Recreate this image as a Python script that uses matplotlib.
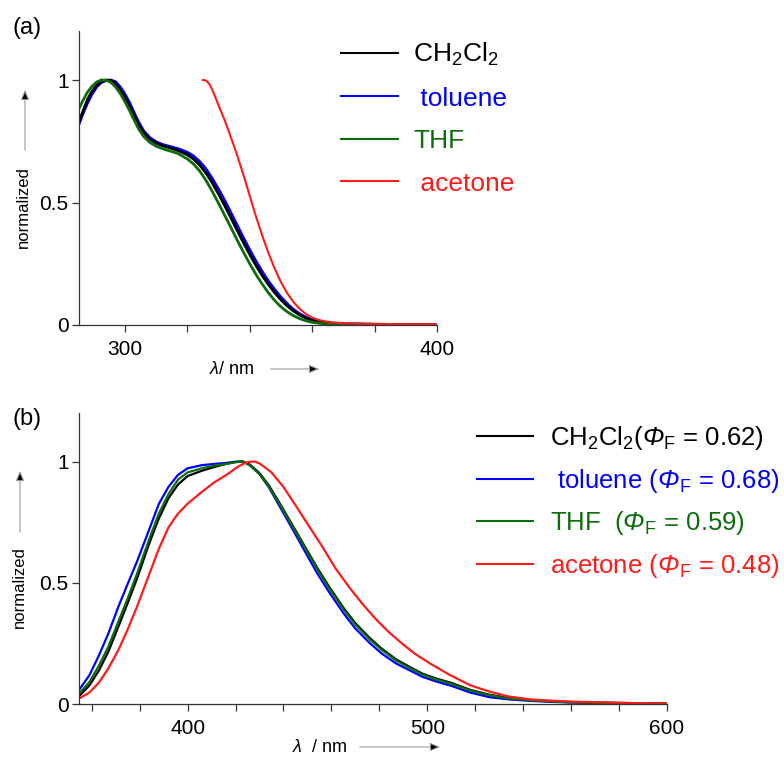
import numpy as np
import matplotlib
matplotlib.use('Agg')
import matplotlib.pyplot as plt

plt.rcParams['font.family'] = ['Liberation Sans', 'DejaVu Sans']
plt.rcParams['mathtext.fontset'] = 'custom'
plt.rcParams['mathtext.rm'] = 'Liberation Sans'
plt.rcParams['mathtext.it'] = 'Liberation Sans:italic'
plt.rcParams['mathtext.sf'] = 'Liberation Sans:italic'
plt.rcParams['mathtext.bf'] = 'Liberation Sans:bold'

# absorption spectra (normalized)
abs_wl = [285, 286.5, 288, 289.5, 291, 292.5, 294, 295.5, 297, 298.5, 300, 301.5,
          303, 304.5, 306, 308, 310, 312, 314, 317,
          320, 322, 324, 326, 328, 330, 332, 334, 336, 338, 340, 342, 344, 346,
          348, 350, 352, 354, 356, 358, 360,
          363, 366, 370, 380, 390, 400]
abs_ch2cl2 = [0.82, 0.87, 0.92, 0.955, 0.98, 0.994, 1.0, 0.998, 0.986, 0.96, 0.93,
              0.895, 0.855, 0.815, 0.785, 0.758, 0.742, 0.732, 0.725, 0.712,
              0.695, 0.677, 0.652, 0.62, 0.58, 0.535, 0.487, 0.437, 0.386, 0.336,
              0.288, 0.243, 0.202, 0.165, 0.132, 0.103, 0.078, 0.057, 0.041, 0.028,
              0.019,
              0.011, 0.007, 0.004, 0.003, 0.002, 0.002]
abs_toluene = [0.81, 0.86, 0.905, 0.943, 0.972, 0.99, 0.998, 1.0, 0.993, 0.972,
               0.943, 0.908, 0.866, 0.826, 0.793, 0.765, 0.748, 0.737, 0.73, 0.72,
               0.705, 0.69, 0.667, 0.637, 0.598, 0.555, 0.508, 0.458, 0.407, 0.356,
               0.307, 0.261, 0.218, 0.179, 0.145, 0.114, 0.087, 0.064, 0.046, 0.032,
               0.022,
               0.013, 0.008, 0.005, 0.003, 0.002, 0.002]
abs_thf = [0.875, 0.915, 0.95, 0.975, 0.992, 1.0, 0.999, 0.99, 0.972, 0.945, 0.912,
           0.875, 0.835, 0.798, 0.77, 0.745, 0.73, 0.72, 0.712, 0.70,
           0.678, 0.657, 0.628, 0.59, 0.545, 0.497, 0.447, 0.397, 0.346, 0.297,
           0.25, 0.206, 0.167, 0.131, 0.10, 0.074, 0.054, 0.038, 0.026, 0.017,
           0.011,
           0.006, 0.004, 0.003, 0.002, 0.002, 0.002]
abs_acetone_wl = [325, 326, 327, 328, 329, 330, 332, 334, 336, 338, 340, 342, 344,
                  346, 348, 350, 352, 354, 356, 358, 360, 362, 364, 367, 370, 375,
                  380, 390, 400]
abs_acetone = [1.0, 0.998, 0.985, 0.96, 0.93, 0.897, 0.835, 0.765, 0.692, 0.612,
               0.527, 0.443, 0.365, 0.294, 0.23, 0.175, 0.13, 0.094, 0.066, 0.045,
               0.03, 0.021, 0.015, 0.01, 0.007, 0.005, 0.004, 0.003, 0.003]

# emission spectra (normalized)
em_wl = [355, 359, 363, 367, 371, 375, 379, 384, 388, 392, 396, 400, 406, 411,
         416, 420, 423,
         426, 430, 434, 438, 443, 448, 454, 459, 465, 470, 476, 481, 487, 493,
         498, 504, 510, 518, 526, 534, 543, 551, 560, 575, 590, 600]
em_ch2cl2 = [0.035, 0.076, 0.138, 0.217, 0.316, 0.416, 0.52, 0.662, 0.765, 0.848,
             0.905, 0.94, 0.962, 0.977, 0.99, 0.998, 1.0,
             0.987, 0.952, 0.90, 0.835, 0.75, 0.665, 0.563, 0.484, 0.397, 0.333,
             0.272, 0.228, 0.184, 0.151, 0.125, 0.104, 0.087, 0.058, 0.038, 0.025,
             0.016, 0.012, 0.008, 0.005, 0.003, 0.003]
em_toluene = [0.062, 0.118, 0.20, 0.292, 0.398, 0.495, 0.59, 0.72, 0.825, 0.895,
              0.945, 0.972, 0.985, 0.99, 0.994, 0.999, 1.0,
              0.985, 0.948, 0.892, 0.822, 0.735, 0.646, 0.54, 0.462, 0.375, 0.311,
              0.251, 0.208, 0.167, 0.137, 0.112, 0.092, 0.075, 0.047, 0.028, 0.019,
              0.013, 0.009, 0.006, 0.004, 0.003, 0.003]
em_thf = [0.046, 0.09, 0.158, 0.238, 0.337, 0.435, 0.54, 0.68, 0.785, 0.865,
          0.925, 0.955, 0.972, 0.983, 0.99, 0.997, 1.0,
          0.984, 0.948, 0.895, 0.83, 0.745, 0.66, 0.557, 0.478, 0.391, 0.327,
          0.266, 0.223, 0.179, 0.147, 0.121, 0.10, 0.083, 0.055, 0.036, 0.023,
          0.015, 0.011, 0.007, 0.004, 0.003, 0.003]
em_acetone_wl = [355, 359, 363, 367, 371, 375, 379, 384, 388, 392, 396, 400, 406,
                 411, 417, 420, 422, 424, 426, 428, 430, 432, 435, 440, 445, 451,
                 456, 462, 468, 473, 479, 484, 490, 495, 501, 509, 518, 526, 534,
                 543, 551, 560, 576, 590, 600]
em_acetone = [0.024, 0.047, 0.088, 0.148, 0.22, 0.307, 0.404, 0.535, 0.64, 0.728,
              0.785, 0.826, 0.875, 0.913, 0.95, 0.972, 0.984, 0.994, 0.999, 1.0,
              0.992, 0.978, 0.955, 0.895, 0.82, 0.728, 0.652, 0.555, 0.474, 0.412,
              0.345, 0.296, 0.245, 0.206, 0.168, 0.122, 0.077, 0.051, 0.031, 0.019,
              0.014, 0.01, 0.006, 0.003, 0.002]

solvents = ['CH$_2$Cl$_2$', ' toluene', 'THF', ' acetone']
phi_f = [0.62, 0.68, 0.59, 0.48]
colors = ['#000000', '#0000ff', '#0a6e0a', '#ff1a1a']
em_labels = ['CH$_2$Cl$_2$(', ' toluene (', 'THF  (', 'acetone (']

W, H = 784, 757
fig = plt.figure(figsize=(W / 100, H / 100), dpi=100)


def fx(px):
    return px / W


def fy(py):
    return 1 - py / H


def style_axes(ax, xlim, major, minor):
    for s in ['top', 'right']:
        ax.spines[s].set_visible(False)
    for s in ['left', 'bottom']:
        ax.spines[s].set_color('#333333')
        ax.spines[s].set_linewidth(0.9)
    ax.set_xlim(*xlim)
    ax.set_ylim(0, 1.2)
    ax.set_xticks(major)
    ax.set_xticks(minor, minor=True)
    ax.set_yticks([0, 0.5, 1])
    ax.set_yticklabels(['0', '0.5', '1'])
    ax.tick_params(which='both', direction='out', length=5, width=0.9,
                   color='#333333', labelsize=15)
    ax.tick_params(axis='x', pad=6)
    ax.tick_params(axis='y', pad=2.5)


def arrow(x0, y0, x1, y1):
    fig.add_artist(matplotlib.patches.FancyArrowPatch(
        (fx(x0), fy(y0)), (fx(x1), fy(y1)), transform=fig.transFigure,
        arrowstyle='-|>,head_length=6,head_width=2.5', fc='black',
        ec='#999999', lw=0.8))


# (a) absorption
ax_a = fig.add_axes([fx(79), fy(325), fx(437) - fx(79), fy(31) - fy(325)])
style_axes(ax_a, (285.3, 400), [300, 400], [320, 340, 360, 380])
l_tol, = ax_a.plot(abs_wl, abs_toluene, color=colors[1], lw=2.0)
l_dcm, = ax_a.plot(abs_wl, abs_ch2cl2, color=colors[0], lw=2.0)
l_thf, = ax_a.plot(abs_wl, abs_thf, color=colors[2], lw=2.0)
l_ace, = ax_a.plot(abs_acetone_wl, abs_acetone, color=colors[3], lw=1.5)
leg = ax_a.legend([l_dcm, l_tol, l_thf, l_ace], solvents, loc='upper left',
                  bbox_to_anchor=(fx(341), fy(41)), bbox_transform=fig.transFigure,
                  frameon=False, fontsize=19, handlelength=2.16,
                  handletextpad=0.57, labelspacing=0.7, borderpad=0,
                  borderaxespad=0, labelcolor='linecolor')
for h in leg.legend_handles:
    h.set_linewidth(1.5)

# (b) emission
ax_b = fig.add_axes([fx(79), fy(704), fx(667) - fx(79), fy(413) - fy(704)])
style_axes(ax_b, (354.7, 600), [400, 500, 600],
           [360, 380, 420, 440, 460, 480, 520, 540, 560, 580])
m_tol, = ax_b.plot(em_wl, em_toluene, color=colors[1], lw=1.6)
m_dcm, = ax_b.plot(em_wl, em_ch2cl2, color=colors[0], lw=1.6)
m_thf, = ax_b.plot(em_wl, em_thf, color=colors[2], lw=1.6)
m_ace, = ax_b.plot(em_acetone_wl, em_acetone, color=colors[3], lw=1.6)
em_text = [lab + r'$\mathsf{\Phi}_\mathrm{F}$ = %.2f)' % p
           for lab, p in zip(em_labels, phi_f)]
leg = ax_b.legend([m_dcm, m_tol, m_thf, m_ace], em_text, loc='upper left',
                  bbox_to_anchor=(fx(477), fy(424)), bbox_transform=fig.transFigure,
                  frameon=False, fontsize=18.5, handlelength=2.18,
                  handletextpad=0.66, labelspacing=0.57, borderpad=0,
                  borderaxespad=0, labelcolor='linecolor')
for h in leg.legend_handles:
    h.set_linewidth(1.5)

# axis captions with arrows
fig.text(fx(23), fy(207), 'normalized', rotation=90, fontsize=12,
         ha='center', va='center')
arrow(25, 153, 25, 87)
fig.text(fx(209), fy(369), r'$\lambda$/ nm', fontsize=13, ha='left', va='center')
arrow(268, 369, 322, 369)

fig.text(fx(19), fy(587), 'normalized', rotation=90, fontsize=12,
         ha='center', va='center')
arrow(20, 535, 20, 468)
fig.text(fx(292), fy(747), r'$\lambda$  / nm', fontsize=13, ha='left', va='center')
arrow(357, 747, 443, 747)

fig.text(fx(12), fy(28), '(a)', fontsize=17, ha='left', va='center')
fig.text(fx(12), fy(419), '(b)', fontsize=17, ha='left', va='center')

fig.savefig('out.png', dpi=100)
